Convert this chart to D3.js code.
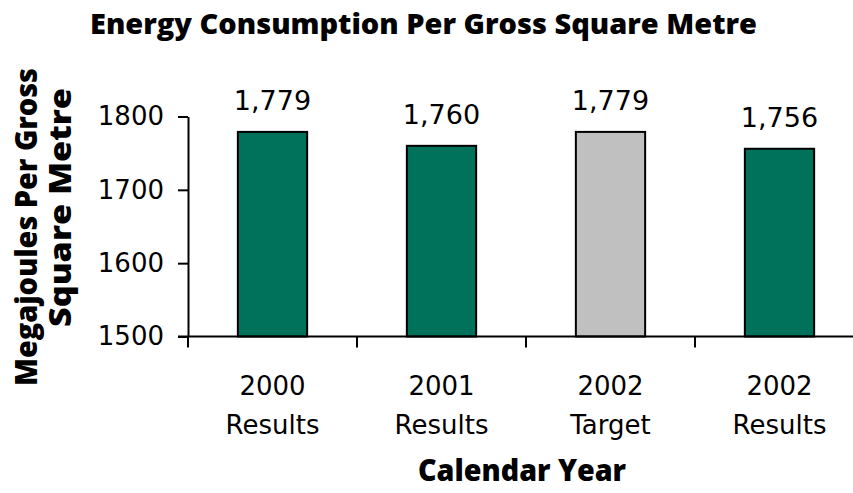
<!DOCTYPE html>
<html>
<head>
<meta charset="utf-8">
<script src="https://cdn.jsdelivr.net/npm/d3@7"></script>
<style>
  body { margin: 0; background: #fff; }
  svg { display: block; }
  .tick_label { font-family: "DejaVu Sans", sans-serif; fill: #000; }
  .heading { font-family: "Open Sans", "DejaVu Sans", sans-serif; font-weight: 800; fill: #000; }
</style>
</head>
<body>
<div id="chart"></div>
<script>
// chart data
var years = ["2000", "2001", "2002", "2002"]
var kinds = ["Results", "Results", "Target", "Results"]
var values = [1779, 1760, 1779, 1756]
var y_ticks = [1500, 1600, 1700, 1800]

var width = 853,
    height = 493

var colours = { "Results": "#00725C", "Target": "#C0C0C0" }

var svg = d3.select("#chart").append("svg")
  .attr("width", width)
  .attr("height", height)

var keys = years.map(function (y, i) { return i })

// plot area runs off the right edge in the original, so the range goes past 853
var x = d3.scaleBand()
  .domain(keys)
  .range([188, 864])
  .padding(0)

var y = d3.scaleLinear()
  .domain([1500, 1800])
  .range([336.5, 116.5])

var bar_w = x.bandwidth() * 0.41

// bars
svg.append("g").selectAll("rect")
  .data(keys)
  .enter().append("rect")
    .attr("x", function (i) { return x(i) + (x.bandwidth() - bar_w) / 2 })
    .attr("y", function (i) { return y(values[i]) })
    .attr("width", bar_w)
    .attr("height", function (i) { return y(1500) - y(values[i]) })
    .attr("fill", function (i) { return colours[kinds[i]] })
    .attr("stroke", "#000")
    .attr("stroke-width", 2)

// value labels
svg.append("g").selectAll("text")
  .data(keys)
  .enter().append("text")
    .attr("class", "tick_label")
    .attr("x", function (i) { return x(i) + x.bandwidth() / 2 })
    .attr("y", function (i) { return y(values[i]) - 22 })
    .attr("text-anchor", "middle")
    .style("font-size", "27px")
    .text(function (i) { return d3.format(",")(values[i]) })

// y axis
var y_axis = svg.append("g")
  .attr("transform", "translate(188,0)")
  .call(d3.axisLeft(y)
    .tickValues(y_ticks)
    .tickFormat(d3.format("d"))
    .tickSize(10)
    .tickSizeOuter(0)
    .tickPadding(14))
y_axis.selectAll("path, line").attr("stroke", "#000").attr("stroke-width", 2)
y_axis.selectAll("text")
  .attr("class", "tick_label")
  .style("font-size", "26px")
  .attr("font-family", null)

// x axis: line plus ticks on the band edges
var x_axis = svg.append("g")
x_axis.append("line")
  .attr("x1", 178)
  .attr("x2", width)
  .attr("y1", y(1500))
  .attr("y2", y(1500))
  .attr("stroke", "#000")
  .attr("stroke-width", 2)

x_axis.selectAll("line.x_tick")
  .data(keys)
  .enter().append("line")
    .attr("class", "x_tick")
    .attr("x1", function (i) { return x(i) })
    .attr("x2", function (i) { return x(i) })
    .attr("y1", y(1500))
    .attr("y2", y(1500) + 11)
    .attr("stroke", "#000")
    .attr("stroke-width", 2)

var cat_labels = x_axis.selectAll("text.cat")
  .data(keys)
  .enter().append("text")
    .attr("class", "tick_label cat")
    .attr("text-anchor", "middle")
    .style("font-size", "26px")

cat_labels.append("tspan")
  .attr("x", function (i) { return x(i) + x.bandwidth() / 2 })
  .attr("y", 395)
  .text(function (i) { return years[i] })

cat_labels.append("tspan")
  .attr("x", function (i) { return x(i) + x.bandwidth() / 2 })
  .attr("y", 434)
  .text(function (i) { return kinds[i] })

// titles
svg.append("text")
  .attr("class", "heading")
  .attr("x", 423.5)
  .attr("y", 34)
  .attr("text-anchor", "middle")
  .attr("textLength", 667)
  .attr("lengthAdjust", "spacingAndGlyphs")
  .style("font-size", "29px")
  .text("Energy Consumption Per Gross Square Metre")

svg.append("text")
  .attr("class", "heading")
  .attr("x", 522)
  .attr("y", 481)
  .attr("text-anchor", "middle")
  .attr("textLength", 208)
  .attr("lengthAdjust", "spacingAndGlyphs")
  .style("font-size", "30px")
  .text("Calendar Year")

var y_title = [
  { "text": "Megajoules Per Gross", "x": 37, "y": 227, "len": 318 },
  { "text": "Square Metre", "x": 71, "y": 207.5, "len": 239 }
]
svg.append("g").selectAll("text")
  .data(y_title)
  .enter().append("text")
    .attr("class", "heading")
    .attr("transform", function (d) { return "translate(" + d.x + "," + d.y + ") rotate(-90)" })
    .attr("text-anchor", "middle")
    .attr("textLength", function (d) { return d.len })
    .attr("lengthAdjust", "spacingAndGlyphs")
    .style("font-size", "30px")
    .text(function (d) { return d.text })
</script>
</body>
</html>
